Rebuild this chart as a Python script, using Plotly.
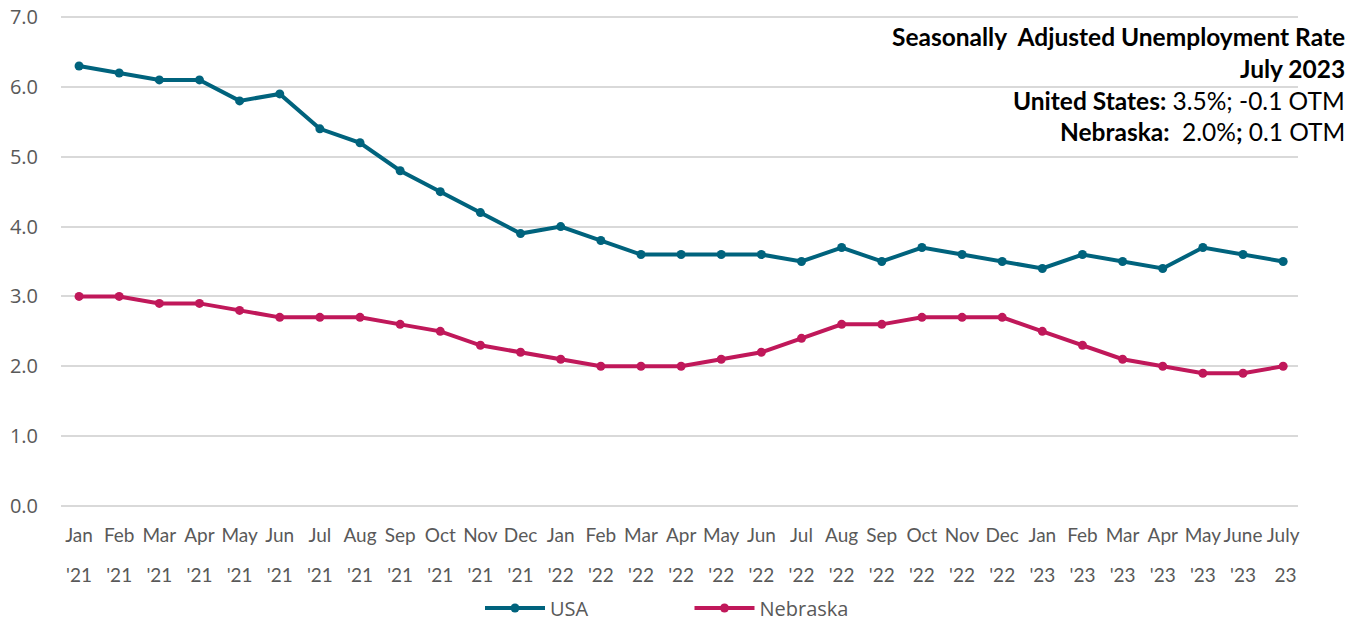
import plotly.graph_objects as go

months = ["Jan", "Feb", "Mar", "Apr", "May", "Jun", "Jul", "Aug", "Sep", "Oct", "Nov", "Dec",
          "Jan", "Feb", "Mar", "Apr", "May", "Jun", "Jul", "Aug", "Sep", "Oct", "Nov", "Dec",
          "Jan", "Feb", "Mar", "Apr", "May", "June", "July"]
years = ["'21"] * 12 + ["'22"] * 12 + ["'23"] * 6 + [" 23"]

usa = [6.3, 6.2, 6.1, 6.1, 5.8, 5.9, 5.4, 5.2, 4.8, 4.5, 4.2, 3.9,
       4.0, 3.8, 3.6, 3.6, 3.6, 3.6, 3.5, 3.7, 3.5, 3.7, 3.6, 3.5,
       3.4, 3.6, 3.5, 3.4, 3.7, 3.6, 3.5]
nebraska = [3.0, 3.0, 2.9, 2.9, 2.8, 2.7, 2.7, 2.7, 2.6, 2.5, 2.3, 2.2,
            2.1, 2.0, 2.0, 2.0, 2.1, 2.2, 2.4, 2.6, 2.6, 2.7, 2.7, 2.7,
            2.5, 2.3, 2.1, 2.0, 1.9, 1.9, 2.0]
ytick_values = [0, 1, 2, 3, 4, 5, 6, 7]

annotation_lines = [
    "<b>Seasonally  Adjusted Unemployment Rate</b>",
    "<b>July 2023</b>",
    "<b>United States:</b> 3.5%; -0.1 OTM",
    "<b>Nebraska:</b>  2.0%<b>;</b> 0.1 OTM",
]

x = list(range(len(months)))
xrange = [-0.45, 30.37]
tickfont = dict(family="Lato, Carlito, sans-serif", size=19, color="#595959")

W, H = 1364, 622

fig = go.Figure()
fig.add_trace(go.Scatter(x=x, y=usa, name="USA", mode="lines+markers",
                         line=dict(color="#00637D", width=4),
                         marker=dict(size=9, color="#00637D")))
fig.add_trace(go.Scatter(x=x, y=nebraska, name="Nebraska", mode="lines+markers",
                         line=dict(color="#C0185A", width=4),
                         marker=dict(size=9, color="#C0185A")))

ys = [0.956, 0.892, 0.826, 0.763]
for txt, yy in zip(annotation_lines, ys):
    fig.add_annotation(text=txt, xref="paper", yref="paper", x=1.0397, y=yy,
                       xanchor="right", yanchor="middle", showarrow=False,
                       font=dict(family="Lato, Carlito, sans-serif", size=24.5, color="#000000"))

fig.update_layout(
    width=W, height=H,
    margin=dict(l=61, r=66, t=15, b=114, autoexpand=False),
    plot_bgcolor="white", paper_bgcolor="white",
    showlegend=True,
    legend=dict(orientation="h", xref="container", x=480 / W, xanchor="left",
                yref="container", y=14 / H, yanchor="middle",
                font=dict(family="Open Sans, sans-serif", size=20, color="#595959"),
                itemwidth=60, entrywidthmode="pixels", entrywidth=134.5),
    xaxis=dict(tickmode="array", tickvals=x, ticktext=months, range=xrange,
               showgrid=False, zeroline=False, showline=False, ticks="",
               tickfont=tickfont, tickangle=0, automargin=False, ticklabelstandoff=14),
    xaxis2=dict(tickmode="array", tickvals=x, ticktext=years, range=xrange,
                overlaying="x", side="bottom", anchor="y", matches="x",
                showgrid=False, zeroline=False, showline=False, ticks="",
                tickfont=tickfont, tickangle=0, automargin=False, ticklabelstandoff=54),
    yaxis=dict(range=[-0.03, 7.03], tickmode="array", tickvals=ytick_values,
               tickformat=".1f", showgrid=True, ticklabeloverflow="allow",
               gridcolor="#D9D9D9", gridwidth=2, zeroline=False, showline=False,
               tickfont=dict(family="Open Sans, sans-serif", size=20, color="#595959"),
               automargin=False, ticklabelstandoff=22),
)
# invisible helper trace so that the year axis is rendered
fig.add_trace(go.Scatter(x=[x[0]], y=[None], xaxis="x2", showlegend=False, hoverinfo="skip"))

fig.write_html("out.html", config={"displayModeBar": False},
               post_script="document.body.style.margin='0px';")
